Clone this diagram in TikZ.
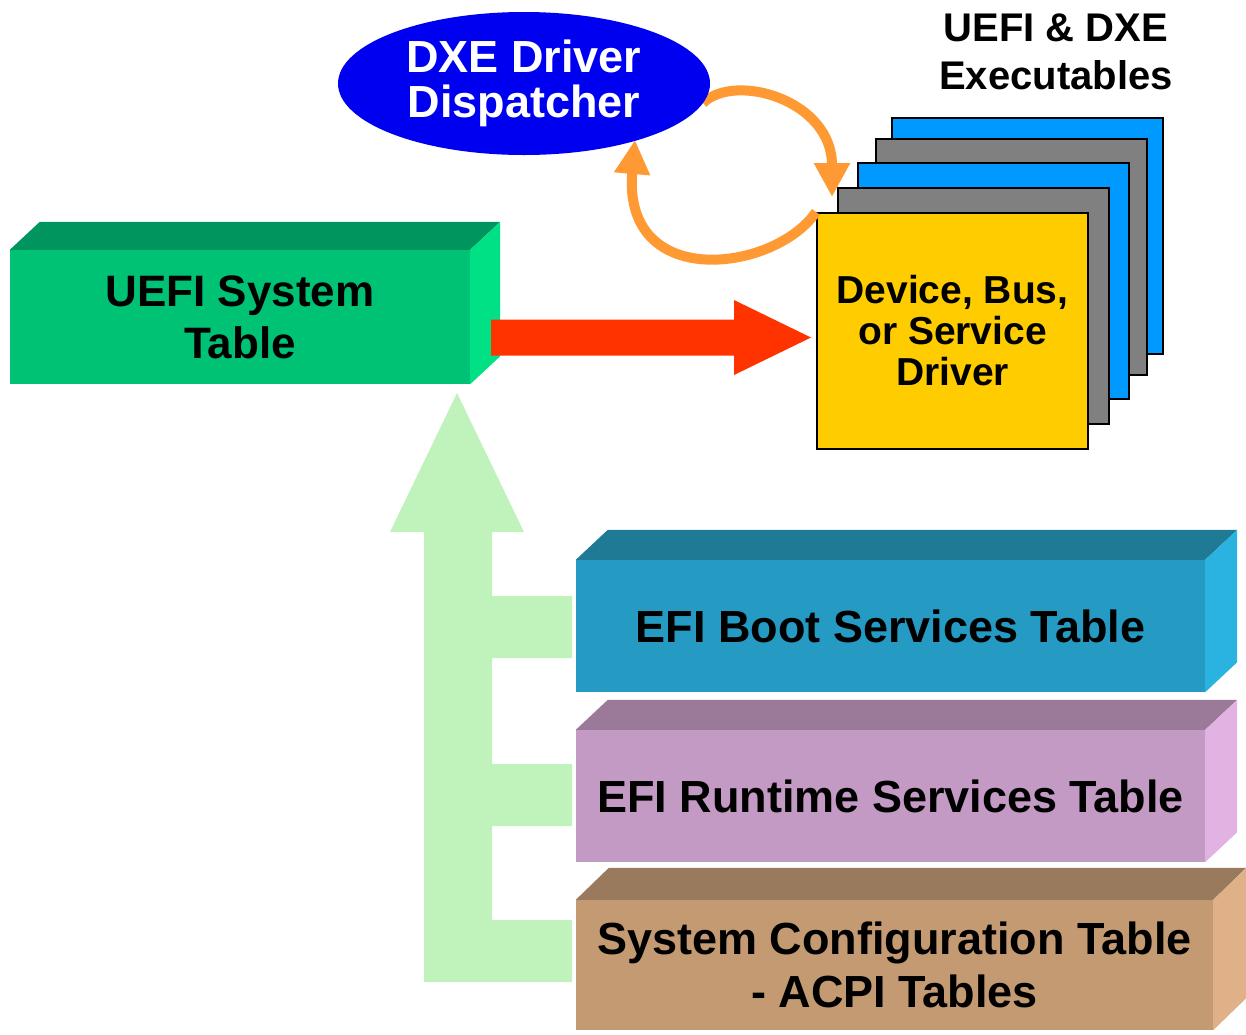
\documentclass[tikz,border=0pt]{standalone}
\usepackage{fontspec}
\setmainfont{Liberation Sans}
\usetikzlibrary{shapes.geometric,arrows.meta}
\definecolor{gfront}{HTML}{00C274}
\definecolor{gtop}{HTML}{00955E}
\definecolor{gside}{HTML}{00E084}
\definecolor{tfront}{HTML}{259BC4}
\definecolor{ttop}{HTML}{1F7A96}
\definecolor{tside}{HTML}{2AB2E0}
\definecolor{pfront}{HTML}{C29AC4}
\definecolor{ptop}{HTML}{9A7A98}
\definecolor{pside}{HTML}{E2B2E2}
\definecolor{bfront}{HTML}{C39A72}
\definecolor{btop}{HTML}{997A5C}
\definecolor{bside}{HTML}{E0B088}
\definecolor{dxeblue}{HTML}{0000F0}
\definecolor{stackblue}{HTML}{0099FF}
\definecolor{stackgray}{HTML}{808080}
\definecolor{drvyellow}{HTML}{FFCC00}
\definecolor{loop}{HTML}{FF9933}
\definecolor{redarrow}{HTML}{FF3300}
\definecolor{lightgreen}{HTML}{C0F2BC}
\tikzset{
  facebox/.style={rectangle, inner sep=0pt, align=center, font=\bfseries\fontsize{45}{53}\selectfont},
  stackbox/.style={rectangle, draw=black, line width=2pt, inner sep=0pt, minimum width=271pt, minimum height=236pt},
  looparrow/.style={draw=loop, line width=10pt, -{Triangle[length=34pt,width=34pt]}},
}
\begin{document}
\begin{tikzpicture}[x=1pt,y=-1pt]
\useasboundingbox (0,0) rectangle (1246,1034);

% light green arrow with branches
\fill[lightgreen] (457,393) -- (524,532) -- (492,532) -- (492,596) -- (572,596) -- (572,658)
  -- (492,658) -- (492,764) -- (572,764) -- (572,826) -- (492,826) -- (492,920)
  -- (572,920) -- (572,982) -- (424,982) -- (424,532) -- (390,532) -- cycle;

% UEFI System Table (3D)
\node[facebox, fill=gfront, minimum width=460pt, minimum height=134pt, font=\bfseries\fontsize{44}{52}\selectfont] (ust) at (240,317) {UEFI System\\Table};
\fill[gtop] (ust.north west) -- ++(30,-28) -- ([shift={(30,-28)}]ust.north east) -- (ust.north east) -- cycle;
\fill[gside] (ust.north east) -- ++(30,-28) -- ([shift={(30,-28)}]ust.south east) -- (ust.south east) -- cycle;

% EFI Boot Services Table
\node[facebox, fill=tfront, minimum width=629pt, minimum height=132pt] (bst) at (890.5,626) {EFI Boot Services\ Table};
\fill[ttop] (bst.north west) -- ++(32,-30) -- ([shift={(32,-30)}]bst.north east) -- (bst.north east) -- cycle;
\fill[tside] (bst.north east) -- ++(32,-30) -- ([shift={(32,-30)}]bst.south east) -- (bst.south east) -- cycle;

% EFI Runtime Services Table
\node[facebox, fill=pfront, minimum width=629pt, minimum height=132pt] (rst) at (890.5,796) {EFI Runtime Services Table};
\fill[ptop] (rst.north west) -- ++(32,-30) -- ([shift={(32,-30)}]rst.north east) -- (rst.north east) -- cycle;
\fill[pside] (rst.north east) -- ++(32,-30) -- ([shift={(32,-30)}]rst.south east) -- (rst.south east) -- cycle;

% System Configuration Table
\node[facebox, fill=bfront, minimum width=637pt, minimum height=130pt] (sct) at (894.5,965) {System Configuration Table\\- ACPI Tables};
\fill[btop] (sct.north west) -- ++(33,-32) -- ([shift={(33,-32)}]sct.north east) -- (sct.north east) -- cycle;
\fill[bside] (sct.north east) -- ++(33,-32) -- ([shift={(33,-32)}]sct.south east) -- (sct.south east) -- cycle;

% stacked executables
\node[stackbox, fill=stackblue] (s4) at (1027.5,236) {};
\node[stackbox, fill=stackgray] (s3) at (1011,256.5) {};
\node[stackbox, fill=stackblue] (s2) at (993,280.5) {};
\node[stackbox, fill=stackgray] (s1) at (973,305.5) {};
\node[stackbox, fill=drvyellow, align=center, font=\bfseries\fontsize{39}{41}\selectfont] (drv) at (952.5,331) {Device, Bus,\\or Service\\Driver};

\node[align=center, font=\bfseries\fontsize{40}{48}\selectfont, anchor=base] (exe) at (1056,89) {UEFI \& DXE\\Executables};

% red arrow
\coordinate (rs) at (491,337.5);
\coordinate (rt) at ([shift={(-5,6.5)}]drv.west);
\fill[redarrow] ([shift={(0,-18)}]rs) -- ([shift={(-77,-18)}]rt) -- ([shift={(-77,-37.5)}]rt) -- (rt)
  -- ([shift={(-77,37.5)}]rt) -- ([shift={(-77,18)}]rt) -- ([shift={(0,18)}]rs) -- cycle;

% orange loop arrows
\coordinate (loopstart) at (703,103);
\coordinate (loopend) at (832,197);
\path[looparrow] (loopstart) .. controls (735,72) and (832,100) .. (loopend);
\path[looparrow] (drv.north west) .. controls (775,272) and (622,292) .. (635,140);

% dispatcher ellipse
\node[ellipse, fill=dxeblue, minimum width=372pt, minimum height=143pt, inner sep=0pt, text=white, align=center, font=\bfseries\fontsize{45}{45}\selectfont] (disp) at (524,83.5) {DXE Driver\\Dispatcher};
\end{tikzpicture}
\end{document}
